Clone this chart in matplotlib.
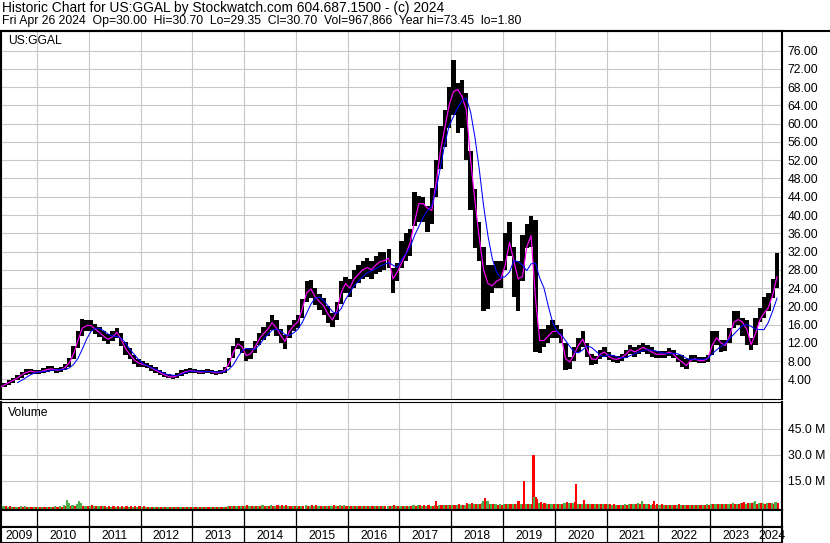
import numpy as np
import matplotlib.pyplot as plt
from matplotlib.lines import Line2D

plt.rcParams['font.family'] = ['Liberation Sans', 'DejaVu Sans']

# monthly readings, Apr 2009 .. Apr 2024 (one row per year)
price_hi = [
    2.9, 3.3, 3.8, 4.3, 4.9, 5.7, 6.2, 6.3, 6.1,
    6.1, 6.5, 6.9, 6.9, 6.5, 6.7, 7.3, 8.6, 11.2, 14.5, 17.2, 17.0,
    17.0, 16.2, 15.4, 14.6, 14.0, 14.5, 15.3, 14.2, 12.2, 10.8, 9.3, 8.4,
    8.0, 7.6, 7.1, 6.6, 6.1, 5.6, 5.1, 5.0, 5.4, 6.0, 6.3, 6.4,
    6.3, 6.1, 6.1, 6.3, 6.1, 5.9, 6.0, 6.8, 8.6, 11.2, 13.0, 12.4,
    10.6, 10.8, 12.3, 14.2, 15.4, 16.5, 18.0, 17.0, 15.0, 13.8, 16.0, 17.0,
    18.0, 21.5, 25.5, 25.8, 24.0, 22.8, 21.8, 20.0, 18.6, 21.0, 25.5, 26.5,
    26.0, 28.0, 29.0, 30.0, 30.5, 30.0, 31.0, 32.0, 32.0, 32.5, 28.5, 29.5,
    34.2, 36.0, 37.0, 45.0, 44.2, 44.0, 42.0, 46.0, 52.0, 59.4, 63.0, 68.0,
    74.0, 69.0, 69.6, 66.8, 54.0, 45.7, 38.5, 33.0, 29.0, 29.0, 30.0, 30.0,
    36.0, 38.5, 33.0, 30.0, 35.6, 38.0, 39.7, 39.0, 15.0, 15.0, 16.0, 17.0,
    16.0, 15.0, 12.0, 9.0, 11.0, 13.0, 14.5, 12.0, 9.5, 9.2, 10.5, 11.0,
    10.0, 9.3, 9.2, 9.6, 10.5, 11.6, 11.0, 11.5, 12.0, 11.6, 11.0, 10.3,
    10.3, 10.3, 10.9, 10.4, 9.4, 9.4, 8.5, 9.4, 9.4, 8.8, 8.8, 9.4,
    14.6, 14.6, 12.7, 12.7, 15.3, 19.0, 19.0, 17.5, 17.0, 13.1, 17.5, 19.7,
    22.0, 23.0, 26.0, 31.7,
]
price_lo = [
    1.8, 2.3, 2.8, 3.3, 3.8, 4.4, 4.9, 5.2, 5.1,
    5.1, 5.4, 5.7, 5.8, 5.4, 5.6, 6.0, 6.8, 8.4, 10.8, 13.6, 14.6,
    14.7, 14.0, 13.2, 12.4, 11.8, 12.3, 13.0, 11.3, 9.4, 8.4, 7.4, 6.8,
    6.7, 6.4, 5.9, 5.4, 4.9, 4.5, 4.2, 4.1, 4.3, 4.8, 5.2, 5.4,
    5.3, 5.2, 5.2, 5.3, 5.2, 5.0, 5.1, 5.5, 6.6, 8.6, 10.6, 9.8,
    8.0, 8.5, 9.8, 11.5, 12.7, 13.6, 14.8, 13.4, 12.0, 10.6, 13.0, 14.6,
    15.2, 17.5, 21.0, 21.8, 20.2, 19.2, 18.2, 16.4, 15.4, 17.0, 20.5, 23.0,
    22.0, 24.0, 25.0, 26.0, 26.5, 26.0, 27.0, 27.6, 28.0, 28.5, 23.0, 25.5,
    28.5, 30.0, 31.0, 37.7, 38.5, 38.5, 36.3, 38.0, 44.0, 50.0, 55.0, 59.0,
    62.0, 58.0, 59.0, 52.0, 41.0, 32.7, 30.0, 19.0, 19.5, 23.0, 24.0, 24.0,
    28.0, 31.0, 22.0, 19.0, 25.5, 32.7, 33.0, 10.0, 9.8, 11.0, 12.0, 13.0,
    13.0, 12.0, 6.0, 6.3, 8.0, 10.0, 11.0, 9.0, 7.2, 7.4, 8.5, 9.0,
    8.2, 7.7, 7.6, 8.0, 8.6, 9.5, 9.0, 9.5, 10.0, 9.5, 9.0, 8.7,
    8.7, 8.7, 9.2, 8.7, 7.7, 6.8, 6.2, 7.7, 7.7, 7.5, 7.5, 7.8,
    9.4, 11.5, 9.9, 10.2, 12.0, 15.3, 15.8, 13.5, 11.6, 10.5, 11.6, 16.5,
    17.5, 19.0, 21.8, 24.0,
]
ma_fast = [
    2.3, 2.8, 3.3, 3.8, 4.3, 5.0, 5.5, 5.8, 5.6,
    5.6, 5.9, 6.2, 6.3, 6.0, 6.1, 6.6, 7.6, 9.6, 12.5, 15.2, 15.8,
    15.8, 15.0, 14.3, 13.4, 12.8, 13.3, 14.3, 12.8, 10.8, 9.5, 8.3, 7.6,
    7.3, 7.0, 6.5, 6.0, 5.5, 5.0, 4.6, 4.5, 4.8, 5.3, 5.7, 5.9,
    5.8, 5.6, 5.6, 5.8, 5.6, 5.4, 5.5, 6.0, 7.5, 9.8, 11.8, 11.2,
    9.2, 9.6, 11.0, 12.8, 14.0, 15.0, 16.4, 15.2, 13.6, 12.3, 14.5, 15.8,
    16.6, 19.5, 23.0, 23.8, 22.0, 21.0, 20.0, 18.2, 17.0, 19.0, 23.0, 25.0,
    24.0, 26.0, 27.0, 28.0, 28.5, 28.0, 29.0, 29.8, 30.0, 30.5, 26.0, 27.5,
    29.5, 31.5, 34.0, 38.5, 42.5, 42.5, 41.5, 41.0, 47.0, 54.0, 59.0, 64.0,
    67.0, 67.5, 66.0, 63.0, 52.0, 43.0, 35.0, 28.0, 25.0, 24.5, 25.5, 26.0,
    29.0, 34.0, 30.0, 26.0, 26.5, 33.0, 35.5, 22.0, 12.5, 12.5, 13.5, 14.5,
    14.5, 13.5, 8.5, 7.8, 9.5, 11.5, 12.8, 10.5, 8.5, 8.3, 9.5, 10.0,
    9.0, 8.5, 8.4, 8.8, 9.5, 10.5, 10.0, 10.5, 11.0, 10.5, 10.0, 9.5,
    9.5, 9.5, 10.0, 9.5, 8.5, 7.8, 7.0, 8.2, 8.5, 8.1, 8.1, 8.6,
    11.5, 13.1, 12.0, 11.4, 13.5, 16.5, 17.1, 16.5, 15.0, 11.6, 14.0, 17.0,
    18.5, 19.7, 22.5, 26.5,
]
ma_slow = [
    np.nan, np.nan, np.nan, np.nan, 3.3, 3.8, 4.4, 5.0, 5.4,
    5.6, 5.7, 5.8, 6.0, 6.1, 6.1, 6.2, 6.5, 7.3, 8.6, 10.6, 12.8,
    14.5, 15.2, 15.2, 14.6, 13.9, 13.5, 13.4, 13.0, 12.0, 10.6, 9.5, 8.4,
    7.5, 7.0, 6.6, 6.2, 5.8, 5.3, 5.0, 4.9, 4.9, 5.1, 5.5, 5.8,
    5.8, 5.8, 5.7, 5.7, 5.7, 5.6, 5.6, 5.7, 6.2, 7.2, 8.8, 10.2,
    10.8, 10.6, 10.6, 11.5, 12.8, 13.8, 14.8, 15.0, 14.6, 13.8, 13.6, 14.2,
    15.0, 16.5, 18.5, 20.5, 21.8, 22.0, 21.2, 20.0, 18.8, 18.4, 19.5, 21.5,
    23.0, 24.5, 25.5, 26.5, 27.3, 27.8, 28.2, 28.8, 29.2, 29.6, 29.0, 28.5,
    30.3, 31.5, 33.0, 35.5, 37.5, 39.5, 41.0, 42.0, 45.5, 50.5, 55.5, 59.5,
    61.5, 63.5, 65.0, 65.6, 62.5, 57.0, 50.0, 42.0, 35.5, 30.5, 27.5, 26.2,
    26.5, 27.5, 30.0, 29.8, 29.0, 27.8, 29.3, 29.5, 26.2, 24.0, 20.0, 16.5,
    14.5, 13.8, 12.5, 11.2, 10.0, 9.8, 10.5, 11.3, 11.0, 10.2, 9.3, 9.0,
    9.4, 9.2, 8.9, 8.7, 8.8, 9.2, 9.6, 10.0, 10.3, 10.5, 10.4, 10.2,
    9.9, 9.7, 9.6, 9.7, 9.6, 9.2, 8.6, 8.4, 8.4, 8.4, 8.4, 8.6,
    9.6, 10.5, 11.2, 11.9, 12.9, 13.9, 14.9, 15.8, 16.0, 15.6, 15.0, 14.9,
    14.9, 16.5, 19.0, 21.8,
]
# typical daily volume in each month (millions), up days and down days
vol_up = [
    0.5, 0.5, 0.4, 0.4, 0.4, 0.5, 0.5, 0.4, 0.4,
    0.4, 0.4, 0.4, 0.4, 0.5, 0.8, 1.2, 2.0, 1.4, 1.8, 1.0, 0.8,
    0.6, 0.5, 0.5, 0.5, 0.4, 0.4, 0.4, 0.4, 0.4, 0.4, 0.4, 0.4,
    0.4, 0.4, 0.4, 0.3, 0.3, 0.3, 0.3, 0.3, 0.3, 0.3, 0.3, 0.3,
    0.3, 0.3, 0.3, 0.3, 0.3, 0.3, 0.3, 0.4, 0.7, 0.9, 0.9, 0.7,
    0.8, 0.8, 0.8, 0.9, 1.0, 0.9, 1.1, 0.9, 0.8, 0.7, 0.9, 0.9,
    0.9, 0.9, 1.0, 0.9, 0.8, 0.7, 0.7, 0.7, 0.7, 0.8, 1.1, 1.0,
    0.7, 0.7, 0.7, 0.7, 0.7, 0.7, 0.7, 0.7, 0.7, 0.7, 0.9, 0.8,
    0.8, 0.8, 0.9, 1.0, 1.0, 0.9, 0.9, 0.9, 1.0, 1.0, 1.0, 1.2,
    1.5, 1.4, 1.4, 1.5, 2.0, 1.6, 1.6, 2.6, 2.2, 1.8, 1.6, 1.6,
    1.6, 1.8, 1.6, 1.8, 2.0, 2.0, 2.0, 3.5, 2.4, 2.1, 2.0, 2.1,
    2.1, 2.0, 2.6, 2.2, 2.3, 2.1, 2.0, 2.0, 1.8, 1.8, 1.8, 1.8,
    1.6, 1.5, 1.5, 1.5, 1.6, 1.8, 1.6, 2.4, 1.8, 1.6, 1.5, 1.5,
    1.5, 1.5, 1.5, 1.5, 1.5, 1.4, 1.4, 1.4, 1.5, 1.5, 1.5, 1.6,
    2.0, 1.8, 1.8, 2.0, 2.1, 2.2, 2.1, 2.4, 2.1, 2.6, 3.0, 2.4,
    2.2, 2.4, 2.6, 3.0,
]
vol_dn = [
    0.5, 0.5, 0.5, 0.4, 0.4, 0.4, 0.4, 0.4, 0.4,
    0.4, 0.4, 0.4, 0.4, 0.4, 0.4, 0.6, 0.9, 0.9, 1.0, 0.8, 0.9,
    1.0, 0.8, 0.7, 0.7, 0.6, 0.6, 0.6, 0.6, 0.6, 0.6, 0.5, 0.5,
    0.5, 0.4, 0.4, 0.4, 0.4, 0.4, 0.4, 0.4, 0.4, 0.4, 0.4, 0.4,
    0.4, 0.4, 0.4, 0.4, 0.4, 0.4, 0.4, 0.4, 0.6, 0.8, 0.8, 0.9,
    1.2, 0.9, 0.8, 0.8, 0.9, 0.9, 0.9, 1.2, 1.0, 1.0, 0.9, 0.9,
    0.9, 0.9, 0.9, 1.0, 1.0, 0.9, 0.9, 0.9, 1.0, 0.9, 0.9, 0.9,
    0.9, 0.8, 0.8, 0.8, 0.8, 0.8, 0.8, 0.8, 0.8, 0.8, 1.2, 0.8,
    0.8, 0.8, 0.8, 0.9, 1.0, 1.0, 1.0, 0.9, 0.9, 1.0, 1.2, 1.2,
    1.5, 1.8, 1.5, 2.2, 2.4, 2.0, 1.8, 2.7, 2.1, 1.8, 1.5, 1.5,
    1.8, 1.6, 2.0, 2.2, 1.8, 2.0, 2.0, 4.5, 2.7, 2.2, 2.0, 2.0,
    2.0, 2.1, 3.0, 2.4, 3.0, 2.1, 2.0, 2.1, 2.1, 2.0, 1.8, 1.8,
    1.6, 1.6, 1.5, 1.5, 1.5, 1.6, 1.6, 1.8, 1.8, 2.0, 1.6, 1.6,
    1.6, 1.5, 1.5, 1.5, 1.6, 1.5, 1.4, 1.4, 1.4, 1.5, 1.5, 1.5,
    1.8, 1.8, 2.1, 1.8, 1.8, 2.0, 1.8, 2.7, 2.2, 2.4, 2.1, 2.2,
    2.1, 2.2, 2.1, 2.2,
]
# single days standing out of the volume band: (decimal year, millions, up day)
spike_t = [2010.58, 2010.62, 2010.81, 2010.84, 2017.71, 2018.62, 2018.66, 2018.70,
           2019.30, 2019.40, 2019.59, 2019.61, 2019.64, 2019.80, 2020.41, 2020.57,
           2021.69, 2021.92, 2023.62, 2023.87, 2024.25]
spike_v = [4.4, 2.5, 3.7, 2.5, 3.3, 3.7, 5.3, 3.3,
           3.7, 15.2, 29.7, 6.0, 6.0, 2.5, 13.5, 4.3,
           3.7, 3.7, 2.3, 3.7, 2.7]
spike_up = [True, True, True, True, False, True, False, True,
            False, False, False, True, False, False, False, False,
            True, False, False, True, True]

years = list(range(2009, 2025))
price_ticks = list(range(4, 80, 4))
vol_ticks = [15, 30, 45]

header1 = "Historic Chart for US:GGAL by Stockwatch.com 604.687.1500 - (c) 2024"
header2 = ("Fri Apr 26 2024  Op=30.00  Hi=30.70  Lo=29.35  Cl=30.70  "
           "Vol=967,866  Year hi=73.45  lo=1.80")

# month centres as decimal years
t = 2009 + (3 + np.arange(len(price_hi)) + 0.5) / 12
t0 = 2010 - 36 / 51.85
t1 = 2010 + 746 / 51.85

W, H = 830, 543
fig = plt.figure(figsize=(W / 100, H / 100), dpi=100)


def box(x0, y0, x1, y1):
    return [x0 / W, 1 - y1 / H, (x1 - x0) / W, (y1 - y0) / H]


FS = 8.7
GRID = '#c8c8c8'
GREEN = '#4cb04c'

ax = fig.add_axes(box(1, 31, 782, 399))
axv = fig.add_axes(box(1, 402, 782, 510))
axd = fig.add_axes(box(1, 510, 782, 527))
axy = fig.add_axes(box(1, 527, 782, 543))

for a in (ax, axv, axd, axy):
    a.set_xlim(t0, t1)
    for s in a.spines.values():
        s.set_color('black')
        s.set_linewidth(1.5)

# price panel
ax.set_ylim(-0.3, 80.3)
ax.set_xticks(years[1:])
ax.set_yticks(price_ticks)
ax.grid(True, color=GRID, linewidth=0.8)
ax.set_axisbelow(True)
ax.tick_params(axis='x', length=0, labelbottom=False)
ax.yaxis.tick_right()
ax.tick_params(axis='y', length=0, pad=4, labelsize=FS)
ax.set_yticklabels([f"{v:.2f}" for v in price_ticks])
ax.spines['bottom'].set_linewidth(0.8)
wid = 4.3 / 51.85
ax.bar(t, np.array(price_hi) - np.array(price_lo), bottom=price_lo,
       width=wid, color='black', linewidth=0, zorder=2)
ax.plot(t, ma_fast, color='#ff00ff', linewidth=0.85, zorder=3)
ax.plot(t, ma_slow, color='#0000ff', linewidth=0.75, zorder=3)
fig.text(8 / W, 1 - 41 / H, "US:GGAL", fontsize=FS, ha='left', va='center')

# volume panel
vlo = -1.6
axv.set_ylim(vlo, 60.2)
axv.set_xticks(years[1:])
axv.set_yticks(vol_ticks)
axv.grid(True, color=GRID, linewidth=0.8)
axv.set_axisbelow(True)
axv.tick_params(axis='x', length=0, labelbottom=False)
axv.yaxis.tick_right()
axv.tick_params(axis='y', length=0, pad=4, labelsize=FS)
axv.set_yticklabels([f"{v:.1f} M" for v in vol_ticks])
axv.spines['top'].set_linewidth(0.8)
half = 2.15 / 51.85
axv.bar(t - half / 2, np.array(vol_up) - vlo, bottom=vlo, width=half,
        color=GREEN, linewidth=0, zorder=2)
axv.bar(t + half / 2, np.array(vol_dn) - vlo, bottom=vlo, width=half,
        color='red', linewidth=0, zorder=2)
axv.bar(spike_t, np.array(spike_v) - vlo, bottom=vlo, width=2.2 / 51.85,
        color=[GREEN if u else 'red' for u in spike_up], linewidth=0, zorder=3)
fig.text(8 / W, 1 - 413 / H, "Volume", fontsize=FS, ha='left', va='center')

# date strips
for a in (axd, axy):
    a.set_ylim(0, 1)
    a.set_xticks([])
    a.set_yticks([])
    for y in years[1:]:
        a.axvline(y, color='black', linewidth=0.9)
for y in years:
    lo_edge = max(y, t0)
    hi_edge = min(y + 1, t1)
    axy.text((lo_edge + hi_edge) / 2, 0.45, str(y), fontsize=FS,
             ha='center', va='center', clip_on=False)

# header and frame
fig.text(2 / W, 1 - 8 / H, header1, fontsize=9.9, ha='left', va='center')
fig.text(2 / W, 1 - 21 / H, header2, fontsize=8.8, ha='left', va='center')
fig.add_artist(Line2D([0, 1], [1 - 31 / H, 1 - 31 / H], color='black',
                      linewidth=1.5, transform=fig.transFigure))

fig.savefig('out.png', dpi=100)
